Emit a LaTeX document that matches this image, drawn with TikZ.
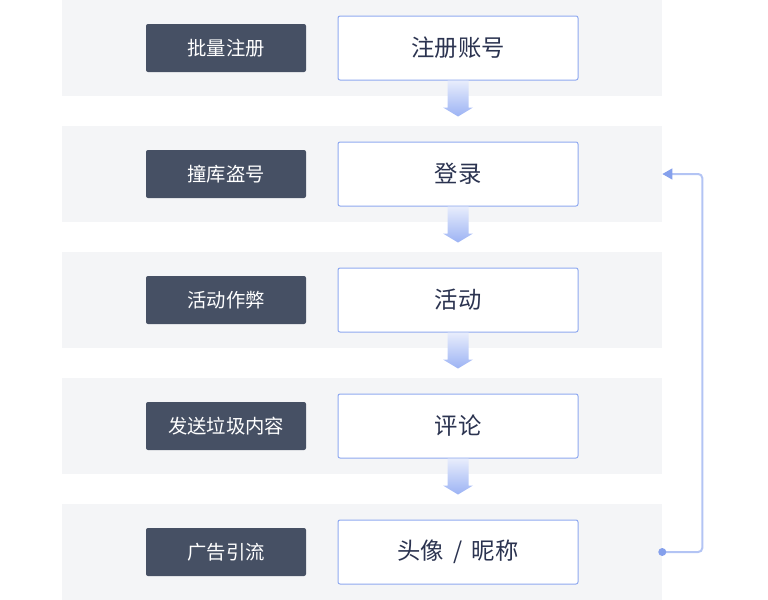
\documentclass[tikz,border=0pt]{standalone}
\usepackage{fontspec}
\setmainfont{Noto Sans CJK SC}
\usetikzlibrary{calc,arrows.meta}

\definecolor{bandgray}{HTML}{F4F5F7}
\definecolor{tagfill}{HTML}{465064}
\definecolor{boxline}{HTML}{8FA9F0}
\definecolor{boxtext}{HTML}{2B3350}
\definecolor{arrtop}{HTML}{E8EDFC}
\definecolor{arrbot}{HTML}{9CB3F4}
\definecolor{loopline}{HTML}{B3C4F4}
\definecolor{loopdot}{HTML}{85A0EC}

\tikzset{
  band/.style={fill=bandgray, minimum width=450pt, minimum height=72pt, inner sep=0},
  tag/.style={fill=tagfill, rounded corners=1.5pt, minimum width=120pt, minimum height=36pt,
    text=white, font=\fontsize{14.5}{14.5}\selectfont, inner sep=0},
  stepbox/.style={draw=boxline, line width=0.75pt, fill=white, rounded corners=1.5pt,
    minimum width=180pt, minimum height=48pt, text=boxtext, font=\fontsize{17.5}{17.5}\selectfont, inner sep=0},
  flowarr/.style={top color=arrtop, bottom color=arrbot, draw=none},
}

\begin{document}
\begin{tikzpicture}[x=0.75pt, y=-0.75pt]
  \useasboundingbox (0,0) rectangle (768,600);

  \foreach \i/\tg/\st in {1/批量注册/注册账号, 2/撞库盗号/登录, 3/活动作弊/活动,
      4/发送垃圾内容/评论, 5/广告引流/{头像\hspace{0.4em}/\hspace{0.4em}昵称}} {
    \pgfmathsetmacro\yc{48+126*(\i-1)}
    \node[band] (b\i) at (362, \yc) {};
    \node[tag] (t\i) at (226, \yc) {\tg};
    \node[stepbox] (w\i) at (458, \yc) {\st};
  }

  % arrows between steps
  \foreach \i in {1,...,4} {
    \path[flowarr] ($(w\i.south)+(-10.5,0)$) -- ++(21,0) -- ++(0,27) -- ++(4.5,0)
      -- ++(-15,9) -- ++(-15,-9) -- ++(4.5,0) -- cycle;
  }

  % loop back to login
  \draw[loopline, line width=1.5pt, rounded corners=3pt,
    -{Triangle[length=7.5pt, width=8pt, color=loopdot]}]
    (b5.east) -- ++(40,0) |- (b2.east);
  \fill[loopdot] (b5.east) circle (3pt);
\end{tikzpicture}
\end{document}
